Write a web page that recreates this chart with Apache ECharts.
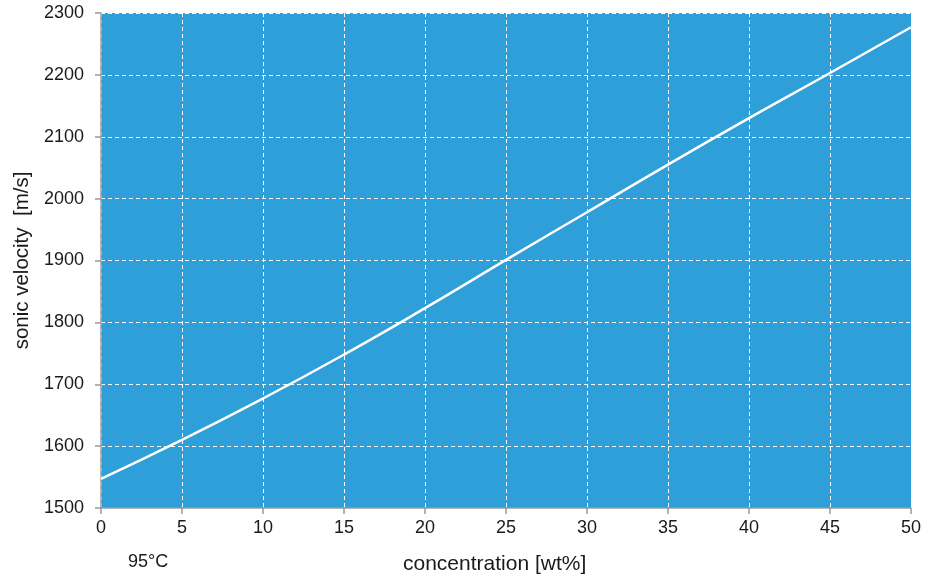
<!DOCTYPE html>
<html>
<head>
<meta charset="utf-8">
<script src="https://cdn.jsdelivr.net/npm/echarts@6/dist/echarts.min.js"></script>
<style>
html,body{margin:0;padding:0;background:#fff;}
#c{width:934px;height:582px;}
</style>
</head>
<body>
<div id="c"></div>
<script>
const concentration = [0, 5, 10, 15, 20, 25, 30, 35, 40, 45, 50];
const sonicVelocity = [1547, 1610, 1677, 1748, 1823, 1901, 1978, 2055, 2130, 2203, 2277];
const xTitle = 'concentration [wt%]';
const yTitle = 'sonic velocity  [m/s]';
const tempLabel = '95°C';

const chart = echarts.init(document.getElementById('c'));
const font = '"Liberation Sans", Arial, sans-serif';
chart.setOption({
  animation: false,
  grid: {
    left: 101, right: 23, top: 13, bottom: 74,
    outerBoundsMode: 'none', containLabel: false,
    show: true, backgroundColor: '#2e9fd8', borderWidth: 0
  },
  xAxis: {
    type: 'value', min: 0, max: 50, interval: 5,
    axisLine: { show: true, lineStyle: { color: '#9a9a9a', width: 1.5 } },
    axisTick: { show: true, length: 6, lineStyle: { color: '#9a9a9a', width: 1.5 } },
    axisLabel: { fontFamily: font, fontSize: 18, color: '#1a1a1a', margin: 11, formatter: v => String(v) },
    splitLine: { show: true, lineStyle: { color: '#ffffff', type: [4, 3], width: 1 } }
  },
  yAxis: {
    type: 'value', min: 1500, max: 2300, interval: 100,
    name: yTitle, nameLocation: 'middle', nameGap: 67,
    nameTextStyle: { fontFamily: font, fontSize: 20.5, color: '#1a1a1a' },
    axisLine: { show: true, lineStyle: { color: '#9a9a9a', width: 1.5 } },
    axisTick: { show: true, length: 6, lineStyle: { color: '#9a9a9a', width: 1.5 } },
    axisLabel: { fontFamily: font, fontSize: 18, color: '#1a1a1a', margin: 17, formatter: v => String(v) },
    splitLine: { show: true, lineStyle: { color: '#ffffff', type: [4, 3], width: 1 } }
  },
  graphic: [{
    type: 'text', left: 128, top: 553,
    style: { text: tempLabel, font: '18px ' + font, fill: '#1a1a1a' }
  }, {
    type: 'text', left: 403, top: 554,
    style: { text: xTitle, font: '21px ' + font, fill: '#1a1a1a' }
  }],
  series: [{
    type: 'line',
    data: concentration.map((c, i) => [c, sonicVelocity[i]]),
    smooth: true,
    showSymbol: false,
    lineStyle: { color: '#ffffff', width: 2.5 },
    clip: true
  }]
});
</script>
</body>
</html>
